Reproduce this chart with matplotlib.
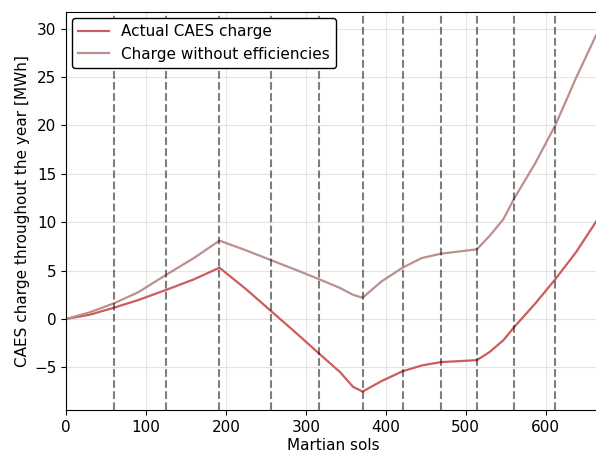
import numpy as np
import matplotlib
matplotlib.use('Agg')
import matplotlib.pyplot as plt

plt.rcParams['font.size'] = 11

# sols at which the curves were sampled
sols = [0, 30, 60, 90, 125, 160, 192, 225, 256, 290, 317, 343, 359, 371,
        395, 421, 445, 469, 514, 530, 547, 561, 587, 612, 638, 663]

# actual CAES charge [MWh]
actual = [0, 0.45, 1.17, 1.95, 3.0, 4.1, 5.3, 3.1, 0.86, -1.6, -3.6, -5.5, -7.0, -7.5,
          -6.4, -5.4, -4.8, -4.45, -4.25, -3.4, -2.2, -0.8, 1.6, 4.1, 6.9, 10.05]

# charge without efficiencies [MWh]
ideal = [0, 0.7, 1.62, 2.75, 4.55, 6.3, 8.1, 7.1, 6.1, 5.0, 4.1, 3.2, 2.5, 2.2,
         3.9, 5.3, 6.3, 6.75, 7.2, 8.6, 10.3, 12.5, 16.1, 20.0, 24.9, 29.3]

# season boundaries (every 30 deg of solar longitude)
season_sols = [60, 125, 192, 256, 317, 371, 421, 469, 514, 561, 612]

fig = plt.figure(figsize=(5.96, 4.54), dpi=100)
ax = fig.add_axes([66/596, 44/454, 534/596, 398.3/454])

ax.plot(sols, actual, color='indianred', linewidth=1.6, label='Actual CAES charge')
ax.plot(sols, ideal, color='rosybrown', linewidth=1.6, label='Charge without efficiencies')

for s in season_sols:
    ax.axvline(s, color='k', linestyle='--', linewidth=1.5, alpha=0.5)

ax.set_xlim(0, 668)
ax.set_ylim(-9.4, 31.75)
ax.set_xticks([0, 100, 200, 300, 400, 500, 600])
ax.set_yticks([-5, 0, 5, 10, 15, 20, 25, 30])
ax.grid(True, color='lightgray', alpha=0.6, linewidth=0.8)

ax.set_xlabel('Martian sols', labelpad=2)
ax.set_ylabel('CAES charge throughout the year [MWh]', labelpad=3)

leg = ax.legend(loc='upper left', framealpha=1.0, borderaxespad=0.4)
leg.get_frame().set_edgecolor('black')

fig.savefig('out.png', dpi=100)
